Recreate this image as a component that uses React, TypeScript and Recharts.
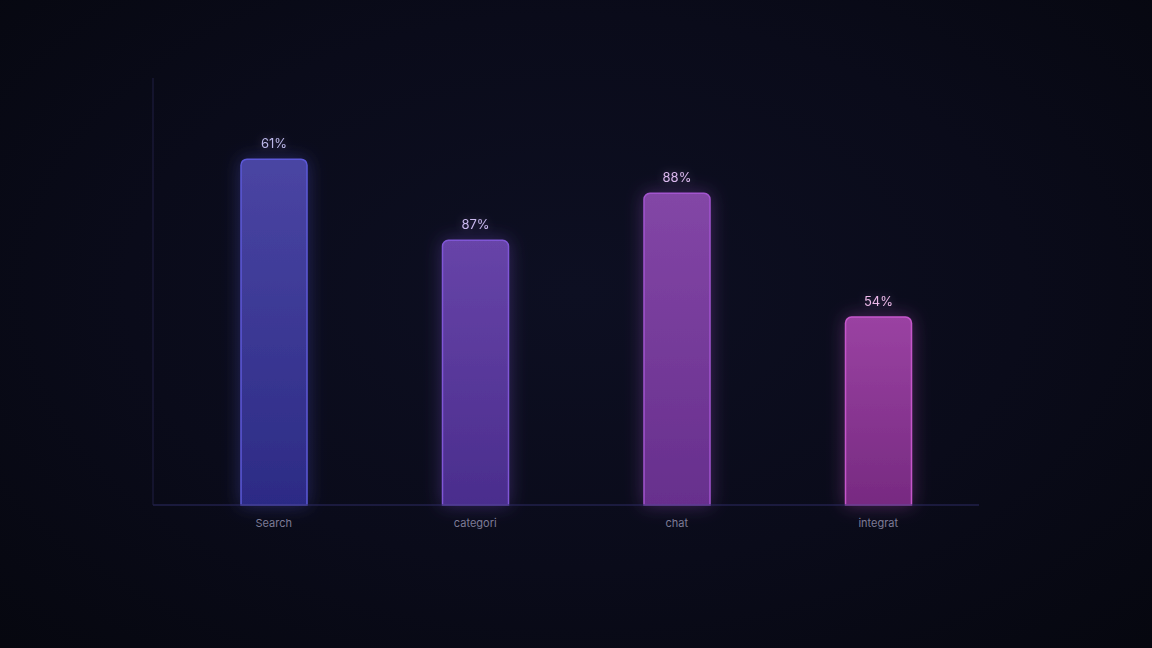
import React from 'react';
import { BarChart, Bar, XAxis, YAxis, Cell, LabelList } from 'recharts';

// bar heights (0-100 scale), labels are printed as-is
const categories = ['Search', 'categori', 'chat', 'integrat'];
const values = [81, 62, 73, 44];
const labels = ['61%', '87%', '88%', '54%'];

const topColors = ['#4a45a3', '#6744a8', '#8346a6', '#9a42a2'];
const bottomColors = ['#2c2b85', '#4a2d8d', '#672f8d', '#772a81'];
const strokeColors = ['#5c58d8', '#8056d6', '#a354cf', '#c657cb'];
const labelColors = ['#bcb8ea', '#c9b8ee', '#dbb8ee', '#ebb8e8'];

const data = categories.map((name, i) => ({ name, value: values[i], label: labels[i] }));

const renderLabel = (props: any) => {
	const { x, y, width, index } = props;
	return (
		<text
			x={x + width / 2}
			y={y - 11}
			textAnchor='middle'
			fill={labelColors[index]}
			fontSize={13}
			fontFamily='Inter, sans-serif'
			filter='url(#labelGlow)'
		>
			{labels[index]}
		</text>
	);
};

export default function App() {
	return (
		<div
			style={{
				position: 'absolute',
				left: 0,
				top: 0,
				width: 1152,
				height: 648,
				background: 'radial-gradient(ellipse at 50% 45%, #0d0f22 0%, #0a0b1a 55%, #06070f 100%)',
				overflow: 'hidden',
			}}
		>
			<BarChart
				width={1152}
				height={648}
				data={data}
				margin={{ top: 78, right: 173, bottom: 113, left: 152 }}
			>
				<defs>
					{topColors.map((c, i) => (
						<linearGradient key={`g-${i}`} id={`grad-${i}`} x1='0' y1='0' x2='0' y2='1'>
							<stop offset='0%' stopColor={c} />
							<stop offset='100%' stopColor={bottomColors[i]} />
						</linearGradient>
					))}
					{strokeColors.map((c, i) => (
						<filter key={`f-${i}`} id={`glow-${i}`} x='-50%' y='-20%' width='200%' height='140%'>
							<feDropShadow dx='0' dy='0' stdDeviation='9' floodColor={c} floodOpacity='0.35' />
						</filter>
					))}
					<filter id='labelGlow' x='-50%' y='-50%' width='200%' height='200%'>
						<feDropShadow dx='0' dy='0' stdDeviation='4' floodColor='#b090e0' floodOpacity='0.35' />
					</filter>
				</defs>
				<XAxis
					dataKey='name'
					padding={{ left: 20, right: 0 }}
					axisLine={{ stroke: '#2c2a62', strokeWidth: 1 }}
					tickLine={false}
					tickSize={0}
					tickMargin={14}
					tick={{ fill: '#7d7b96', fontSize: 11, fontFamily: 'Inter, sans-serif' }}
				/>
				<YAxis
					width={1}
					domain={[0, 100]}
					tick={false}
					tickLine={false}
					axisLine={{ stroke: '#201f45', strokeWidth: 1 }}
				/>
				<Bar dataKey='value' barSize={66} radius={[6, 6, 0, 0]} isAnimationActive={false}>
					{data.map((entry, idx) => (
						<Cell
							key={`cell-${idx}`}
							fill={`url(#grad-${idx})`}
							stroke={strokeColors[idx]}
							strokeWidth={1.5}
							filter={`url(#glow-${idx})`}
						/>
					))}
					<LabelList dataKey='label' content={renderLabel} />
				</Bar>
			</BarChart>
		</div>
	);
}
